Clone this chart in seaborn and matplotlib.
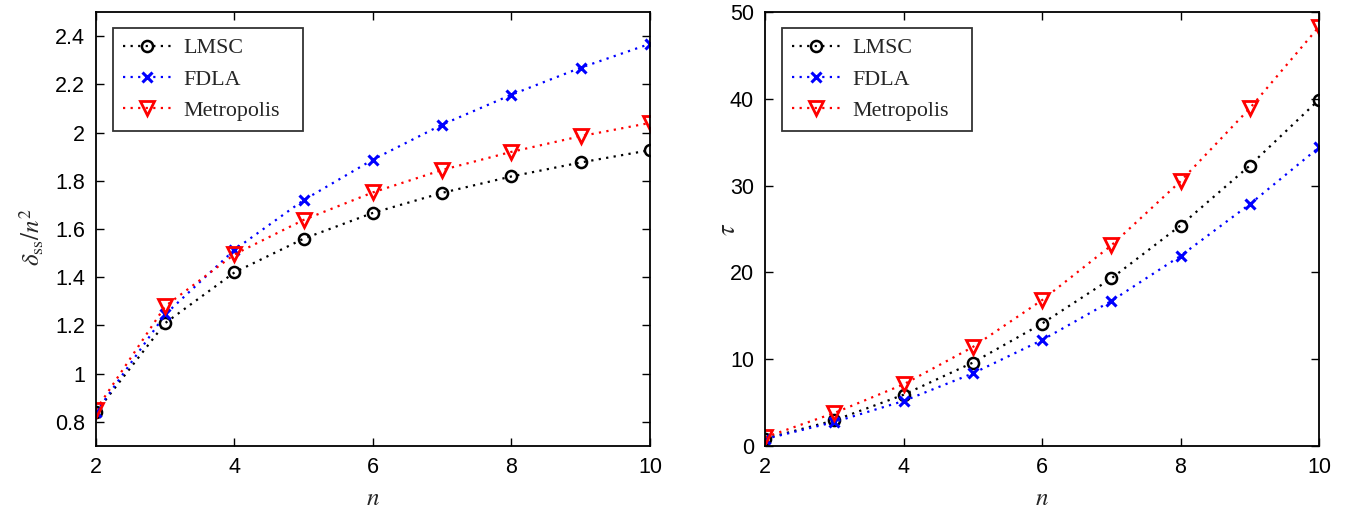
import matplotlib
matplotlib.use("Agg")
import matplotlib.pyplot as plt
import seaborn as sns
import numpy as np

n_vals = [2, 3, 4, 5, 6, 7, 8, 9, 10]

# Left panel: delta_ss / n^2
lmsc_delta = [0.84, 1.21, 1.42, 1.56, 1.667, 1.75, 1.818, 1.876, 1.927]
fdla_delta = [0.84, 1.246, 1.514, 1.72, 1.888, 2.033, 2.157, 2.269, 2.368]
metro_delta = [0.85, 1.28, 1.495, 1.638, 1.752, 1.845, 1.92, 1.985, 2.04]

# Right panel: tau
lmsc_tau = [0.85, 2.95, 5.9, 9.6, 14.1, 19.3, 25.4, 32.3, 39.9]
fdla_tau = [0.8, 2.76, 5.18, 8.36, 12.2, 16.7, 21.9, 27.85, 34.4]
metro_tau = [1.0, 3.8, 7.1, 11.4, 16.8, 23.1, 30.5, 38.9, 48.3]

series_names = ["LMSC", "FDLA", "Metropolis"]
x_ticks = [2, 4, 6, 8, 10]
left_yticks = [0.8, 1.0, 1.2, 1.4, 1.6, 1.8, 2.0, 2.2, 2.4]
left_yticklabels = ["0.8", "1", "1.2", "1.4", "1.6", "1.8", "2", "2.2", "2.4"]
right_yticks = [0, 10, 20, 30, 40, 50]
right_yticklabels = ["0", "10", "20", "30", "40", "50"]

sns.set_style("ticks")
plt.rcParams["font.family"] = ["Liberation Sans", "DejaVu Sans"]
plt.rcParams["mathtext.fontset"] = "stix"

fig = plt.figure(figsize=(13.46, 5.14), dpi=100)
W, H = 1346, 514
ax1 = fig.add_axes([96 / W, 1 - 446 / H, (650 - 96) / W, (446 - 12) / H])
ax2 = fig.add_axes([765 / W, 1 - 446 / H, (1319 - 765) / W, (446 - 12) / H])

styles = [
    dict(color="black", marker="o", markersize=8, markerfacecolor="none",
         markeredgecolor="black", markeredgewidth=1.8),
    dict(color="#0000ff", marker="x", markersize=6.5, markeredgecolor="#0000ff",
         markeredgewidth=2.2),
    dict(color="#ff0000", marker="v", markersize=10, markerfacecolor="none",
         markeredgecolor="#ff0000", markeredgewidth=2.0),
]

def draw(ax, data_list):
    for name, vals, st in zip(series_names, data_list, styles):
        sns.lineplot(x=n_vals, y=vals, ax=ax, label=name, linestyle=(0, (1, 2.4)),
                     linewidth=1.6, **st)

draw(ax1, [lmsc_delta, fdla_delta, metro_delta])
draw(ax2, [lmsc_tau, fdla_tau, metro_tau])

for ax in (ax1, ax2):
    ax.set_xlim(2, 10)
    ax.set_xticks(x_ticks)
    ax.set_xticklabels([str(t) for t in x_ticks])
    ax.tick_params(direction="in", top=True, right=True, length=6, width=1,
                   labelsize=15.5, pad=8, colors="black")
    for s in ax.spines.values():
        s.set_visible(True)
        s.set_linewidth(1.3)
        s.set_color("black")
    ax.set_xlabel("$n$", fontsize=18)
    ax.xaxis.set_label_coords(0.5, -0.092)
    leg = ax.legend(loc="upper left",
                    bbox_to_anchor=(17 / 554, 1 - 16 / 434, 190 / 554, 0.0),
                    mode="expand",
                    prop={"family": "Liberation Serif", "size": 15.8},
                    frameon=True, fancybox=False, edgecolor="black",
                    handlelength=2.2, handletextpad=0.55, labelspacing=0.5,
                    borderpad=0.45, borderaxespad=0.0)
    leg.get_frame().set_linewidth(1.3)

ax1.set_ylim(0.7, 2.5)
ax1.set_yticks(left_yticks)
ax1.set_yticklabels(left_yticklabels)
ax1.set_ylabel(r"$\delta_{\mathrm{ss}}/n^2$", fontsize=18)
ax1.yaxis.set_label_coords(-0.09, 0.48)

ax2.set_ylim(0, 50)
ax2.set_yticks(right_yticks)
ax2.set_yticklabels(right_yticklabels)
ax2.set_ylabel(r"$\tau$", fontsize=19)
ax2.yaxis.set_label_coords(-0.046, 0.5)

fig.savefig("out.png", dpi=100)
